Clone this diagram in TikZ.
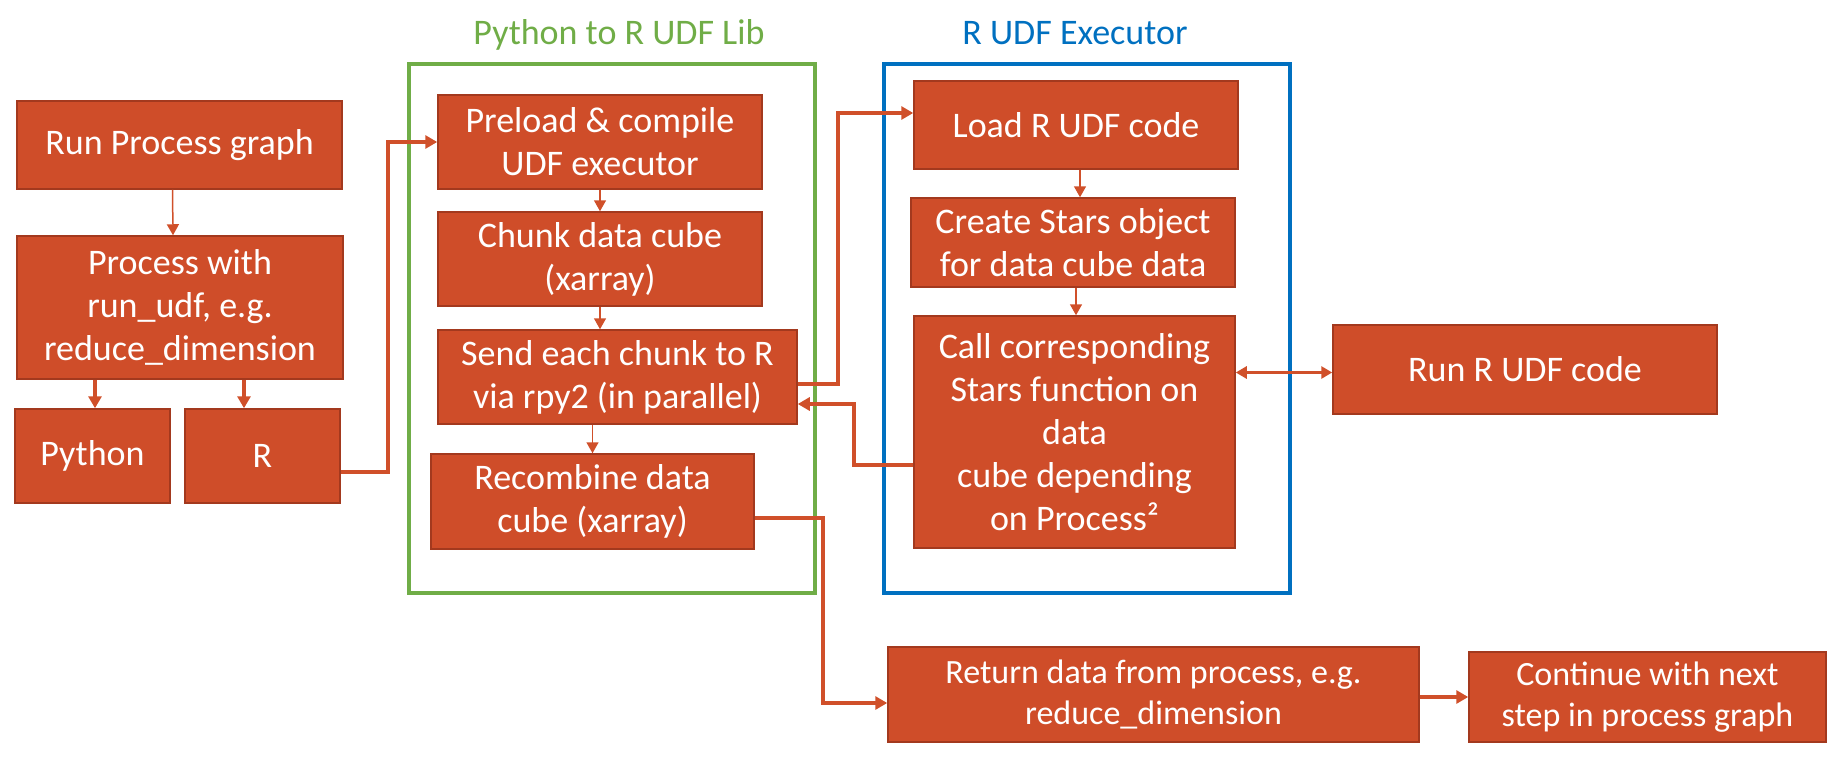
\documentclass[tikz,border=0pt]{standalone}
\usepackage{fontspec}
\setmainfont{Carlito}
\usetikzlibrary{arrows.meta,calc}
\definecolor{boxfill}{HTML}{CF4D29}
\definecolor{boxline}{HTML}{A3391E}
\definecolor{linkc}{HTML}{D0502A}
\definecolor{frgreen}{HTML}{70AD47}
\definecolor{frblue}{HTML}{0070C0}
\tikzset{
  box/.style={rectangle, fill=boxfill, draw=boxline, line width=1.5pt, text=white,
    align=center, inner sep=0pt, font=\fontsize{36}{43}\selectfont},
  smallbox/.style={box, font=\fontsize{34}{41}\selectfont},
  frame/.style={rectangle, line width=4pt, inner sep=0pt},
  frtitle/.style={anchor=base, font=\fontsize{36}{43}\selectfont},
  thinlink/.style={draw=linkc, line width=1.5pt, -{Triangle[length=11pt,width=12pt]}},
  thicklink/.style={draw=linkc, line width=4pt, -{Triangle[length=12pt,width=13pt]}},
  twolink/.style={draw=linkc, line width=3pt, {Triangle[length=11pt,width=12pt]}-{Triangle[length=11pt,width=12pt]}},
}
\begin{document}
\begin{tikzpicture}[x=1pt,y=-1pt]
\useasboundingbox (0,0) rectangle (1846,768);

% frames and titles
\node[frame, draw=frgreen, minimum width=406pt, minimum height=529pt] (libframe) at (612,328.5) {};
\node[frame, draw=frblue, minimum width=406pt, minimum height=529pt] (exframe) at (1087,328.5) {};
\node[frtitle, text=frgreen] (libtitle) at (619,45) {Python to R UDF Lib};
\node[frtitle, text=frblue] (extitle) at (1075,45) {R UDF Executor};

% left column
\node[box, minimum width=325pt, minimum height=88pt] (run) at (179.5,145) {Run Process graph};
\node[box, minimum width=326pt, minimum height=143pt] (proc) at (180,307.5) {Process with\\run\_udf, e.g.\\reduce\_dimension};
\node[box, minimum width=155pt, minimum height=94pt] (python) at (92.5,456) {Python};
\node[box, minimum width=155pt, minimum height=94pt] (rbox) at (262.5,456) {R};

% Python to R UDF Lib
\node[box, minimum width=324pt, minimum height=94pt] (preload) at (600,142) {Preload \& compile\\UDF executor};
\node[box, minimum width=324pt, minimum height=94pt] (chunk) at (600,259) {Chunk data cube\\(xarray)};
\node[box, minimum width=359pt, minimum height=94pt] (send) at (617.5,377) {Send each chunk to R\\via rpy2 (in parallel)};
\node[box, minimum width=323pt, minimum height=95pt] (recomb) at (592.5,501.5) {Recombine data\\cube (xarray)};

% R UDF Executor
\node[box, minimum width=324pt, minimum height=88pt] (load) at (1076,125) {Load R UDF code};
\node[box, minimum width=324pt, minimum height=89pt] (create) at (1073,242.5) {Create Stars object\\for data cube data};
\node[box, minimum width=321pt, minimum height=232pt] (call) at (1074.5,432) {Call corresponding\\Stars function on\\data\\cube depending\\on Process²};
\node[box, minimum width=384pt, minimum height=89pt] (runr) at (1525,369.5) {Run R UDF code};

% bottom
\node[smallbox, minimum width=531pt, minimum height=95pt] (ret) at (1153.5,694.5) {Return data from process, e.g.\\reduce\_dimension};
\node[smallbox, minimum width=357pt, minimum height=90pt] (cont) at (1647.5,697) {Continue with next\\step in process graph};

% connectors
\draw[thinlink] ([xshift=-7pt]run.south) -- ([xshift=-7pt]proc.north);
\draw[thicklink] ([xshift=2.5pt]proc.south -| python.north) -- ([xshift=2.5pt]python.north);
\draw[thicklink] ([xshift=-18.5pt]proc.south -| rbox.north) -- ([xshift=-18.5pt]rbox.north);
\draw[thicklink] ([yshift=-16pt]rbox.east) -- ++(47,0) |- (preload.west);

\draw[thinlink] (preload.south) -- (chunk.north);
\draw[thinlink] (chunk.south) -- (chunk.south |- send.north);
\draw[thinlink] (send.south -| recomb.north) -- (recomb.north);

\draw[thicklink] ([yshift=-7pt]send.east) -- ++(40,0) |- ([yshift=12pt]load.west);
\draw[thicklink] ([yshift=-33pt]call.west) -- ++(-59,0) |- ([yshift=-27pt]send.east);

\draw[thinlink] ([xshift=4pt]load.south) -- ([xshift=4pt]load.south |- create.north);
\draw[thinlink] ([xshift=3pt]create.south) -- ([xshift=3pt]create.south |- call.north);
\draw[twolink] ([yshift=-3pt]call.east |- runr.west) -- ([yshift=-3pt]runr.west);

\draw[thicklink] ([yshift=-16.5pt]recomb.east) -- ++(68,0) |- ([yshift=-8.5pt]ret.west);
\draw[thicklink] (ret.east |- cont.west) -- (cont.west);
\end{tikzpicture}
\end{document}
